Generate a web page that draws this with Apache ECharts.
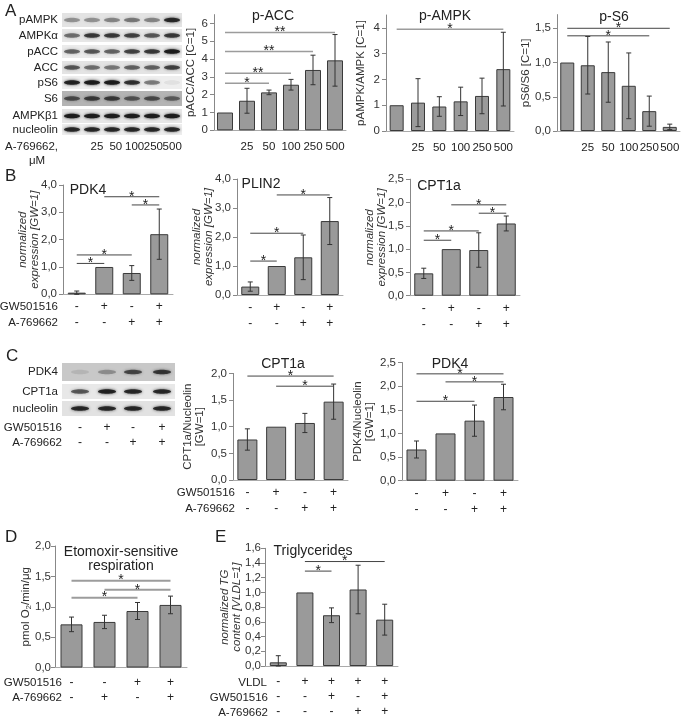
<!DOCTYPE html>
<html><head><meta charset="utf-8">
<script src="https://cdn.jsdelivr.net/npm/echarts@6/dist/echarts.min.js"></script>
<style>html,body{margin:0;padding:0;background:#fff}#c{width:683px;height:719px}</style>
</head><body><div id="c"></div>
<script>
// ---------------- DATA ----------------
// Panel A: dose response (A-769662, µM)
const doseCats = ['', '25', '50', '100', '250', '500'];
const pACC = [1.0, 1.66, 2.13, 2.56, 3.39, 3.93];
const pACCErr = [0, 0.70, 0.13, 0.30, 0.83, 1.45];
const pACCSig = [[0, 2, 2.64], [0, 3, 3.2], [0, 4, 4.42], [0, 5, 5.5]];
const pACCSigTxt = ['*', '**', '**', '**'];

const pAMPK = [1.0, 1.1, 0.95, 1.15, 1.36, 2.4];
const pAMPKErr = [0, 0.93, 0.38, 0.55, 0.69, 1.43];
const pAMPKSig = [[0, 5, 3.95]];
const pAMPKSigTxt = ['*'];

const pS6 = [1.0, 0.96, 0.86, 0.66, 0.29, 0.06];
const pS6Err = [0, 0.42, 0.44, 0.48, 0.22, 0.04];
const pS6Sig = [[0, 5, 1.5], [0, 4, 1.39]];
const pS6SigTxt = ['*', '*'];

// Panel B / C treatment rows
const gwRow = ['-', '+', '-', '+'];
const aRow = ['-', '-', '+', '+'];

const pdk4B = [0.06, 1.0, 0.78, 2.2];
const pdk4BErr = [0.06, 0, 0.27, 0.92];
const pdk4BSig = [[0, 1, 1.13], [0, 2, 1.44], [2, 3, 3.27], [1, 3, 3.57]];

const plin2 = [0.29, 1.0, 1.3, 2.55];
const plin2Err = [0.16, 0, 0.77, 0.81];
const plin2Sig = [[0, 1, 1.17], [0, 2, 2.13], [1, 3, 3.45]];

const cpt1aB = [0.48, 1.0, 0.98, 1.55];
const cpt1aBErr = [0.11, 0, 0.37, 0.16];
const cpt1aBSig = [[0, 1, 1.19], [0, 2, 1.39], [2, 3, 1.77], [1, 3, 1.95]];

const cpt1aC = [0.76, 1.0, 1.07, 1.47];
const cpt1aCErr = [0.2, 0, 0.18, 0.33];
const cpt1aCSig = [[0, 3, 1.95], [1, 3, 1.76]];

const pdk4C = [0.66, 1.0, 1.27, 1.77];
const pdk4CErr = [0.18, 0, 0.33, 0.27];
const pdk4CSig = [[0, 3, 2.26], [1, 3, 2.09], [0, 2, 1.68]];

// Panel D
const gwRowD = ['-', '-', '+', '+'];
const aRowD = ['-', '+', '-', '+'];
const etox = [0.71, 0.75, 0.93, 1.03];
const etoxErr = [0.12, 0.11, 0.14, 0.145];
const etoxSig = [[0, 3, 1.43], [1, 3, 1.28], [0, 2, 1.15]];

// Panel E
const vldlRowE = ['-', '+', '+', '+', '+'];
const gwRowE = ['-', '-', '+', '-', '+'];
const aRowE = ['-', '-', '-', '+', '+'];
const tg = [0.05, 1.0, 0.69, 1.04, 0.63];
const tgErr = [0.09, 0, 0.1, 0.33, 0.21];
const tgSig = [[1, 2, 1.29], [1, 4, 1.42]];

// Western blot labels
const blotA = ['pAMPK', 'AMPK\u03b1', 'pACC', 'ACC', 'pS6', 'S6', 'AMPK\u03b21', 'nucleolin'];
const blotALanes = ['25', '50', '100', '250', '500'];
const blotC = ['PDK4', 'CPT1a', 'nucleolin'];

// ---------------- BUILD ----------------
const F = '"Liberation Sans", Arial, Helvetica, sans-serif';
const grids = [], xAxes = [], yAxes = [], series = [], gfx = [];
const rows2 = (r1, r2) => r1.map((v, i) => v + '\n' + r2[i]);
const rows3 = (r1, r2, r3) => r1.map((v, i) => v + '\n' + r2[i] + '\n' + r3[i]);
function fmt(dec) { return v => dec === 0 ? String(Math.round(v)) : v.toFixed(dec).replace('.', ','); }

function addPanel(p) {
  const i = grids.length;
  grids.push(Object.assign({ containLabel: false }, p.grid));
  xAxes.push({
    gridIndex: i, type: 'category', data: p.cats,
    axisLine: { lineStyle: { color: '#aaa' } },
    axisTick: { length: 3, lineStyle: { color: '#aaa' } },
    axisLabel: { interval: 0, color: '#222', fontFamily: F, fontSize: p.catFont || 12, lineHeight: p.catLH || 16, margin: p.catMargin },
    splitLine: { show: false }
  });
  yAxes.push({
    gridIndex: i, type: 'value', min: 0, max: p.max,
    splitLine: { show: false },
    axisLine: { show: true, lineStyle: { color: '#888' } },
    axisTick: { show: true, length: 4, lineStyle: { color: '#888' }, customValues: p.ticks },
    axisLabel: { customValues: p.ticks, formatter: fmt(p.dec), color: '#333', fontFamily: F, fontSize: 11.5, margin: p.yMargin || 6 },
    name: p.name, nameLocation: 'middle', nameGap: p.nameGap, nameMoveOverlap: false,
    nameTextStyle: Object.assign({ fontFamily: F, fontSize: 11.5, color: '#333', fontStyle: p.italic ? 'italic' : 'normal', lineHeight: 12 }, p.nameRich ? { rich: p.nameRich } : {})
  });
  series.push({
    type: 'bar', xAxisIndex: i, yAxisIndex: i, data: p.mean, barWidth: p.barWidth, silent: true,
    itemStyle: { color: '#9a9a9a', borderColor: '#3a3a3a', borderWidth: 1 }
  });
  series.push({
    type: 'custom', xAxisIndex: i, yAxisIndex: i, silent: true, z: 5,
    data: p.mean.map((m, k) => [k, m - p.err[k], m + p.err[k]]),
    encode: { x: 0, y: [1, 2] },
    renderItem: (params, api) => {
      const lo = api.value(1), hi = api.value(2);
      if (hi - lo <= 0) return;
      const a = api.coord([api.value(0), Math.max(0, lo)]);
      const b = api.coord([api.value(0), hi]);
      const c = 2.5, st = { stroke: '#333', lineWidth: 1 };
      return { type: 'group', children: [
        { type: 'line', shape: { x1: a[0], y1: a[1], x2: b[0], y2: b[1] }, style: st },
        { type: 'line', shape: { x1: b[0] - c, y1: b[1], x2: b[0] + c, y2: b[1] }, style: st },
        { type: 'line', shape: { x1: a[0] - c, y1: a[1], x2: a[0] + c, y2: a[1] }, style: st }
      ] };
    }
  });
  series.push({
    type: 'custom', xAxisIndex: i, yAxisIndex: i, silent: true, z: 6,
    data: p.sig,
    encode: { x: [0, 1], y: 2 },
    renderItem: (params, api) => {
      const a = api.coord([api.value(0), api.value(2)]);
      const b = api.coord([api.value(1), api.value(2)]);
      const txt = p.sigTxt ? p.sigTxt[params.dataIndex] : '*';
      return { type: 'group', children: [
        { type: 'line', shape: { x1: a[0], y1: a[1], x2: b[0], y2: b[1] }, style: { stroke: p.sigColor, lineWidth: p.sigWidth } },
        { type: 'text', x: (a[0] + b[0]) / 2, y: a[1], style: { text: txt, font: '14px ' + F, fill: '#222', align: 'center', verticalAlign: 'middle' } }
      ] };
    }
  });
}

const gray = '#9c9c9c', dark = '#444';
// Panel A charts
addPanel({ grid: { left: 214, top: 14.6, width: 132, height: 115.7 }, cats: doseCats, mean: pACC, err: pACCErr, sig: pACCSig, sigTxt: pACCSigTxt,
  max: 6.5, ticks: [0, 1, 2, 3, 4, 5, 6], dec: 0, name: 'pACC/ACC [C=1]', nameGap: 17, barWidth: 16, sigColor: gray, sigWidth: 1.5, catMargin: 9, catFont: 11.5 });
addPanel({ grid: { left: 386, top: 15, width: 128, height: 116 }, cats: doseCats, mean: pAMPK, err: pAMPKErr, sig: pAMPKSig, sigTxt: pAMPKSigTxt,
  max: 4.5, ticks: [0, 1, 2, 3, 4], dec: 0, name: 'pAMPK/AMPK [C=1]', nameGap: 19, barWidth: 14, sigColor: gray, sigWidth: 1.5, catMargin: 9, catFont: 11.5 });
addPanel({ grid: { left: 557, top: 14.6, width: 123, height: 116.4 }, cats: doseCats, mean: pS6, err: pS6Err, sig: pS6Sig, sigTxt: pS6SigTxt,
  max: 1.7, ticks: [0, 0.5, 1.0, 1.5], dec: 1, name: 'pS6/S6 [C=1]', nameGap: 25, barWidth: 14, sigColor: dark, sigWidth: 1, catMargin: 9, catFont: 11.5 });
// Panel B
addPanel({ grid: { left: 63, top: 185, width: 110, height: 109.3 }, cats: rows2(gwRow, aRow), mean: pdk4B, err: pdk4BErr, sig: pdk4BSig,
  max: 4, ticks: [0, 1, 2, 3, 4], dec: 1, name: 'normalized\nexpression [GW=1]', italic: true, nameGap: 22, barWidth: 18, sigColor: dark, sigWidth: 1, catMargin: 4.5 });
addPanel({ grid: { left: 237, top: 179, width: 106, height: 116 }, cats: rows2(gwRow, aRow), mean: plin2, err: plin2Err, sig: plin2Sig,
  max: 4, ticks: [0, 1, 2, 3, 4], dec: 1, name: 'normalized\nexpression [GW=1]', italic: true, nameGap: 22, barWidth: 18, sigColor: dark, sigWidth: 1, catMargin: 4.5 });
addPanel({ grid: { left: 410, top: 179.2, width: 110, height: 116.5 }, cats: rows2(gwRow, aRow), mean: cpt1aB, err: cpt1aBErr, sig: cpt1aBSig,
  max: 2.5, ticks: [0, 0.5, 1, 1.5, 2, 2.5], dec: 1, name: 'normalized\nexpression [GW=1]', italic: true, nameGap: 22, barWidth: 19, sigColor: dark, sigWidth: 1, catMargin: 4.5 });
// Panel C
addPanel({ grid: { left: 233, top: 373.4, width: 115, height: 106.6 }, cats: rows2(gwRow, aRow), mean: cpt1aC, err: cpt1aCErr, sig: cpt1aCSig,
  max: 2, ticks: [0, 0.5, 1, 1.5, 2], dec: 1, name: 'CPT1a/Nucleolin\n[GW=1]', nameGap: 27, barWidth: 20, sigColor: dark, sigWidth: 1, catMargin: 4.5 });
addPanel({ grid: { left: 402, top: 362.5, width: 116, height: 118.2 }, cats: rows2(gwRow, aRow), mean: pdk4C, err: pdk4CErr, sig: pdk4CSig,
  max: 2.5, ticks: [0, 0.5, 1, 1.5, 2, 2.5], dec: 1, name: 'PDK4/Nucleolin\n[GW=1]', nameGap: 26, barWidth: 20, sigColor: dark, sigWidth: 1, catMargin: 4.5 });
// Panel D
addPanel({ grid: { left: 55, top: 546, width: 132, height: 121.5 }, cats: rows2(gwRowD, aRowD), mean: etox, err: etoxErr, sig: etoxSig,
  max: 2, ticks: [0, 0.5, 1, 1.5, 2], dec: 1, name: 'pmol O{sub|2}/min/\u03bcg', nameGap: 23, yMargin: 4, barWidth: 22, sigColor: gray, sigWidth: 2, catMargin: 8, catLH: 15,
  nameRich: { sub: { fontFamily: F, fontSize: 8, color: '#333', padding: [6, 0, 0, 0] } } });
// Panel E
addPanel({ grid: { left: 265, top: 548.3, width: 133, height: 119 }, cats: rows3(vldlRowE, gwRowE, aRowE), mean: tg, err: tgErr, sig: tgSig,
  max: 1.6, ticks: [0, 0.2, 0.4, 0.6, 0.8, 1.0, 1.2, 1.4, 1.6], dec: 1, name: 'normalized TG\ncontent [VLDL=1]', italic: true, nameGap: 22, yMargin: 4, barWidth: 17, sigColor: dark, sigWidth: 1, catMargin: 8, catLH: 15 });

// ---------------- TEXT / DECORATION ----------------
function txt(t, x, y, size, align, extra) {
  gfx.push({ type: 'text', x: x, y: y, silent: true, style: Object.assign({ text: t, font: size + 'px ' + F, fill: '#222', align: align || 'center', verticalAlign: 'middle' }, extra || {}) });
}
// panel letters
txt('A', 5, 11, 17, 'left'); txt('B', 5, 176, 17, 'left'); txt('C', 6, 356, 17, 'left');
txt('D', 5, 537, 17, 'left'); txt('E', 215, 537, 17, 'left');
// chart titles
txt('p-ACC', 273, 16, 14); txt('p-AMPK', 445, 16, 14); txt('p-S6', 614, 17, 14);
txt('PDK4', 88, 190, 14); txt('PLIN2', 261, 184, 14); txt('CPT1a', 439, 186, 14);
txt('CPT1a', 283, 364, 14); txt('PDK4', 450, 364, 14);
txt('Etomoxir-sensitive', 121, 552, 14); txt('respiration', 121, 566, 14);
txt('Triglycerides', 313, 551, 14);
// row labels
txt('GW501516', 58, 307, 11.5, 'right'); txt('A-769662', 58, 323, 11.5, 'right');
txt('GW501516', 235, 493, 11.5, 'right'); txt('A-769662', 235, 509, 11.5, 'right');
txt('GW501516', 62, 683, 11.5, 'right'); txt('A-769662', 62, 698, 11.5, 'right');
txt('VLDL', 267, 683, 11.5, 'right'); txt('GW501516', 268, 698, 11.5, 'right'); txt('A-769662', 268, 713, 11.5, 'right');

// blot strips
function strip(x, y, w, h, bg, lanes, intens, rx, ry) {
  gfx.push({ type: 'rect', silent: true, shape: { x: x, y: y, width: w, height: h }, style: { fill: bg } });
  lanes.forEach((cx, k) => {
    const a = intens[k];
    gfx.push({ type: 'ellipse', silent: true, shape: { cx: cx, cy: y + h / 2, rx: rx, ry: ry },
      style: { fill: 'rgba(25,25,25,' + a + ')', shadowBlur: 3, shadowColor: 'rgba(25,25,25,' + a + ')' } });
  });
}
const lanesA = [72, 92, 112, 132, 152, 172];
const stripsA = [
  [13, 14, '#e3e3e3', [0.35, 0.35, 0.4, 0.45, 0.4, 0.85]],
  [29, 13, '#e7e7e7', [0.5, 0.75, 0.75, 0.7, 0.6, 0.75]],
  [45, 13, '#ebebeb', [0.55, 0.6, 0.55, 0.7, 0.75, 0.95]],
  [61, 13, '#e4e4e4', [0.6, 0.5, 0.45, 0.55, 0.55, 0.7]],
  [76, 13, '#eeeeee', [0.9, 0.95, 0.95, 0.8, 0.45, 0.06]],
  [91, 15, '#b4b4b4', [0.6, 0.7, 0.7, 0.55, 0.6, 0.5]],
  [109, 14, '#e6e6e6', [0.95, 0.95, 0.95, 0.95, 0.95, 0.95]],
  [124, 11, '#ededed', [0.85, 0.85, 0.85, 0.85, 0.85, 0.85]]
];
stripsA.forEach((s, k) => {
  strip(62, s[0], 120, s[1], s[2], lanesA, s[3], 8, 2.3);
  txt(blotA[k], 58, s[0] + s[1] / 2, 11.5, 'right');
});
txt('A-769662,', 5, 147, 11.5, 'left');
txt('\u03bcM', 37, 161, 11.5, 'center');
blotALanes.forEach((t, k) => txt(t, 97 + k * 18.8, 147, 11.5, 'center'));

const lanesC = [80, 107, 133, 162];
const stripsC = [
  [363, 18, '#c8c8c8', [0.1, 0.3, 0.65, 0.75]],
  [384, 15, '#e8e8e8', [0.6, 0.9, 0.85, 0.85]],
  [401, 15, '#e2e2e2', [0.85, 0.85, 0.85, 0.85]]
];
stripsC.forEach((s, k) => {
  strip(62, s[0], 113, s[1], s[2], lanesC, s[3], 9, 2.3);
  txt(blotC[k], 58, s[0] + s[1] / 2, 11.5, 'right');
});
txt('GW501516', 62, 428, 11.5, 'right'); txt('A-769662', 62, 443, 11.5, 'right');
gwRow.forEach((t, k) => txt(t, lanesC[k], 428, 12));
aRow.forEach((t, k) => txt(t, lanesC[k], 443, 12));

const chart = echarts.init(document.getElementById('c'), null, { renderer: 'canvas', width: 683, height: 719 });
chart.setOption({
  backgroundColor: '#fff',
  animation: false,
  textStyle: { fontFamily: F },
  grid: grids, xAxis: xAxes, yAxis: yAxes, series: series,
  graphic: { elements: gfx }
});
</script>
</body></html>
